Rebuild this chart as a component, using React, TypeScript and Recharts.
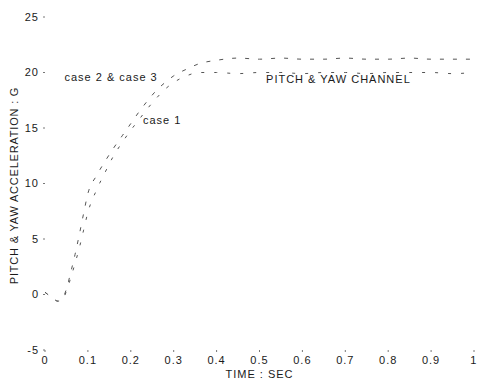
import {
  LineChart,
  Line,
  XAxis,
  YAxis,
  ReferenceDot,
} from "recharts";

const INK = "#1a1a1a";
const TRACE = "#555";
const FONT = "'Liberation Sans', Arial, sans-serif";

// time samples, sec
const TIME = [
  0, 0.01, 0.02, 0.03, 0.04, 0.05, 0.06, 0.07, 0.08, 0.09, 0.1, 0.12, 0.14, 0.16, 0.18, 0.2, 0.22,
  0.24, 0.26, 0.28, 0.3, 0.33, 0.36, 0.4, 0.45, 0.5, 0.55, 0.6, 0.65, 0.7, 0.75, 0.8, 0.85, 0.9,
  0.95, 1.0,
];

// pitch & yaw acceleration, G
const CASE_1 = [
  0.2, -0.1, -0.4, -0.6, -0.5, 0.3, 1.5, 2.8, 4.2, 5.8, 7.4, 9.4, 11.0, 12.5, 13.7, 14.8, 15.8,
  16.8, 17.7, 18.5, 19.1, 19.7, 20.0, 20.0, 19.9, 20.0, 20.0, 19.9, 20.0, 20.0, 19.9, 20.0, 20.0,
  20.0, 19.9, 20.0,
];
const CASE_2_3 = [
  0.2, -0.1, -0.4, -0.6, -0.4, 0.5, 2.0, 3.6, 5.4, 7.3, 9.1, 10.7, 12.0, 13.2, 14.3, 15.4, 16.5,
  17.5, 18.4, 19.1, 19.7, 20.3, 20.8, 21.1, 21.3, 21.2, 21.3, 21.2, 21.2, 21.3, 21.2, 21.2, 21.3,
  21.2, 21.2, 21.2,
];

const X_TICKS = [0, 0.1, 0.2, 0.3, 0.4, 0.5, 0.6, 0.7, 0.8, 0.9, 1];
const Y_TICKS = [-5, 0, 5, 10, 15, 20, 25];

const rows = TIME.map((t, i) => ({ t, case1: CASE_1[i], case23: CASE_2_3[i] }));

const tickStyle = { fill: INK, fontFamily: FONT, fontSize: 11, letterSpacing: 1 };
const noteStyle = { fill: INK, fontFamily: FONT, fontSize: 11, letterSpacing: 1 };

function fmtX(v: number) {
  return v === 0 || v === 1 ? String(v) : v.toFixed(1);
}

function YTitle(props: any) {
  const vb = props.viewBox;
  const cx = 14;
  const cy = vb.y + vb.height / 2 + 2;
  return (
    <text
      x={cx}
      y={cy}
      transform={`rotate(-90, ${cx}, ${cy})`}
      textAnchor="middle"
      dominantBaseline="central"
      style={{ ...noteStyle, letterSpacing: 0.8 }}
    >
      PITCH &amp; YAW ACCELERATION : G
    </text>
  );
}

export default function App() {
  return (
    <div style={{ position: "absolute", left: 0, top: 0, background: "#fff" }}>
      <LineChart
        width={477}
        height={383}
        data={rows}
        margin={{ top: 17, right: 3, bottom: 0, left: 0 }}
      >
        <XAxis
          dataKey="t"
          type="number"
          domain={[0, 1]}
          ticks={X_TICKS}
          tickFormatter={fmtX}
          axisLine={false}
          tickLine={{ stroke: "#777" }}
          tickSize={2}
          tickMargin={4}
          height={33}
          tick={tickStyle}
          label={{ value: "TIME : SEC", position: "insideBottom", offset: 5, style: noteStyle }}
        />
        <XAxis
          xAxisId="top"
          dataKey="t"
          type="number"
          orientation="top"
          domain={[0, 1]}
          ticks={X_TICKS}
          axisLine={false}
          tickLine={{ stroke: "#888" }}
          tickSize={2}
          tick={false}
          height={0}
        />
        <YAxis
          type="number"
          domain={[-5, 25]}
          ticks={Y_TICKS}
          axisLine={false}
          tickLine={{ stroke: "#777" }}
          tickSize={2}
          tickMargin={4}
          width={45}
          tick={tickStyle}
          label={{ content: YTitle }}
        />
        <YAxis
          yAxisId="right"
          type="number"
          orientation="right"
          domain={[-5, 25]}
          ticks={Y_TICKS}
          axisLine={false}
          tickLine={{ stroke: "#888" }}
          tickSize={2}
          tick={false}
          width={0}
        />
        {/* faded traces: short dashes with long gaps */}
        <Line
          dataKey="case1"
          type="monotone"
          stroke={TRACE}
          strokeWidth={1}
          strokeDasharray="3 10"
          dot={false}
          isAnimationActive={false}
        />
        <Line
          dataKey="case23"
          type="monotone"
          stroke={TRACE}
          strokeWidth={1}
          strokeDasharray="4 9"
          dot={false}
          isAnimationActive={false}
        />
        <ReferenceDot
          x={0.154}
          y={19.6}
          r={0}
          stroke="none"
          label={{ value: "case 2 & case 3", position: "center", style: noteStyle }}
        />
        <ReferenceDot
          x={0.273}
          y={15.7}
          r={0}
          stroke="none"
          label={{ value: "case 1", position: "center", style: noteStyle }}
        />
        <ReferenceDot
          x={0.684}
          y={19.4}
          r={0}
          stroke="none"
          label={{ value: "PITCH & YAW CHANNEL", position: "center", style: noteStyle }}
        />
      </LineChart>
    </div>
  );
}
